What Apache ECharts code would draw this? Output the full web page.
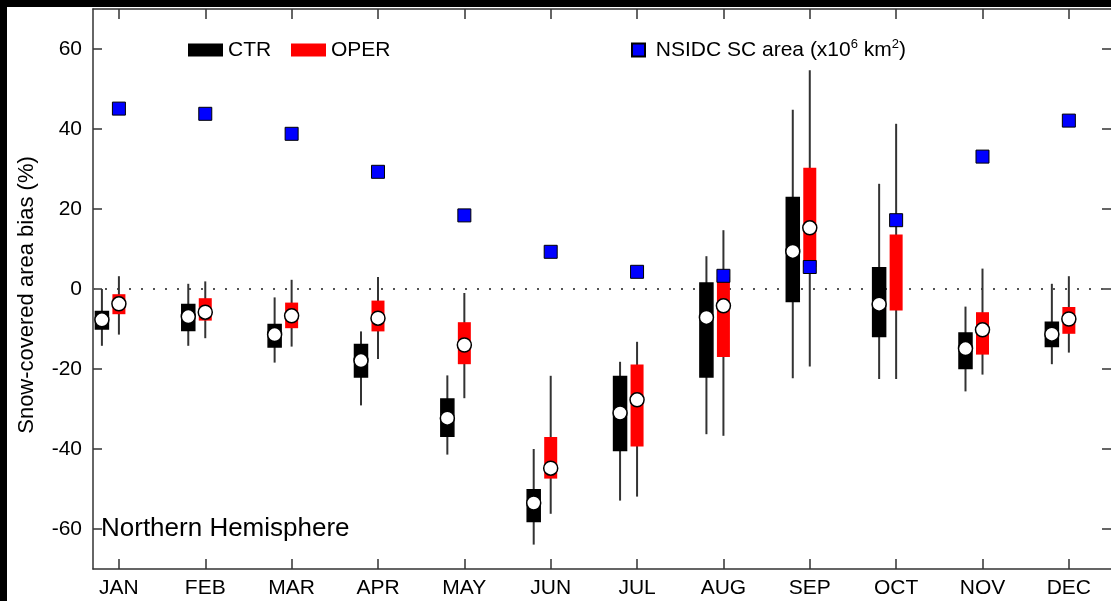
<!DOCTYPE html>
<html>
<head>
<meta charset="utf-8">
<script src="https://cdn.jsdelivr.net/npm/echarts@6/dist/echarts.min.js"></script>
<style>
  html, body { margin: 0; padding: 0; background: #fff; }
  #chart { width: 1111px; height: 601px; }
</style>
</head>
<body>
<div id="chart"></div>
<script>
// Month labels and their positions on the x axis
const months = ['JAN', 'FEB', 'MAR', 'APR', 'MAY', 'JUN', 'JUL', 'AUG', 'SEP', 'OCT', 'NOV', 'DEC'];
const monthIndex = [1, 2, 3, 4, 5, 6, 7, 8, 9, 10, 11, 12];
const yTicks = [-60, -40, -20, 0, 20, 40, 60];

// CTR experiment: snow-covered area bias (%) box statistics per month
const ctrLow    = [-14.2, -14.2, -18.4, -29.1, -41.4, -63.9, -52.9, -36.3, -22.3, -22.5, -25.6, -18.8];
const ctrQ1     = [-10.0, -10.4, -14.5, -22.0, -36.8, -58.1, -40.4, -22.0,  -3.1, -11.9, -19.9, -14.4];
const ctrMedian = [ -7.7,  -6.9, -11.4, -17.9, -32.3, -53.5, -31.0,  -7.1,   9.4,  -3.8, -14.9, -11.3];
const ctrQ3     = [ -5.6,  -3.9,  -8.9, -13.9, -27.5, -50.2, -21.9,   1.5,  22.9,   5.3, -11.0,  -8.3];
const ctrHigh   = [  0.0,   1.3,  -2.1, -10.6, -21.6, -40.0, -18.2,   8.2,  44.8,  26.3,  -4.4,   1.3];

// OPER experiment: snow-covered area bias (%) box statistics per month
const operLow    = [-11.4, -12.3, -14.4, -17.5, -27.3, -56.2, -51.9, -36.7, -19.4, -22.5, -21.4, -15.9];
const operQ1     = [ -6.3,  -7.9,  -9.8, -10.6, -18.8, -47.4, -39.4, -17.0,   5.5,  -5.4, -16.4, -11.2];
const operMedian = [ -3.7,  -5.8,  -6.7,  -7.3, -14.0, -44.8, -27.7,  -4.2,  15.3,  null, -10.2,  -7.5];
const operQ3     = [ -1.3,  -2.3,  -3.4,  -2.9,  -8.3, -37.0, -18.9,   3.0,  30.3,  13.6,  -5.8,  -4.5];
const operHigh   = [  3.2,   1.9,   2.3,   3.0,  -1.0, -21.7, -13.2,  14.7,  54.7,  41.3,   5.1,   3.2];

// NSIDC snow-covered area (x10^6 km^2)
const nsidcArea = [45.1, 43.8, 38.8, 29.3, 18.4, 9.3, 4.3, 3.3, 5.5, 17.2, 33.1, 42.1];

const FONT = '"Liberation Sans", Arial, Helvetica, sans-serif';
const AXIS_COLOR = '#333';

function boxRows(lo, q1, med, q3, hi) {
  return monthIndex.map((m, i) => [m, lo[i], q1[i], med[i] == null ? NaN : med[i], q3[i], hi[i]]);
}

// Whisker + box + median marker, shifted horizontally by a pixel offset
function boxRenderer(offsetPx, fill, stroke) {
  return function (params, api) {
    const x = api.value(0);
    const yLo = api.coord([x, api.value(1)])[1];
    const yQ1 = api.coord([x, api.value(2)])[1];
    const med = api.value(3);
    const yQ3 = api.coord([x, api.value(4)])[1];
    const yHi = api.coord([x, api.value(5)])[1];
    const cx = api.coord([x, 0])[0] + offsetPx;
    const half = 6.5;
    const children = [
      { type: 'line', shape: { x1: cx, y1: yHi, x2: cx, y2: yLo },
        style: { stroke: '#333', lineWidth: 2 } },
      { type: 'rect', shape: { x: cx - half, y: yQ3, width: half * 2, height: yQ1 - yQ3 },
        style: { fill: fill, stroke: stroke, lineWidth: stroke === 'none' ? 0 : 1.5 } }
    ];
    if (!isNaN(med)) {
      const yMed = api.coord([x, med])[1];
      children.push({ type: 'circle', shape: { cx: cx, cy: yMed, r: 7 },
        style: { fill: '#fff', stroke: '#000', lineWidth: 1.5 } });
    }
    return { type: 'group', children: children };
  };
}

const X_MIN = 0.7, X_MAX = 12.488;
const xAxisBase = {
  type: 'value', min: X_MIN, max: X_MAX,
  axisLine: { show: true, onZero: false, lineStyle: { color: AXIS_COLOR, width: 1.5 } },
  axisTick: { show: true, inside: true, length: 10, customValues: monthIndex,
    lineStyle: { color: AXIS_COLOR, width: 1.5 } },
  splitLine: { show: false }
};
const yAxisBase = {
  type: 'value', min: -70, max: 70,
  axisLine: { show: true, onZero: false, lineStyle: { color: AXIS_COLOR, width: 1.5 } },
  axisTick: { show: true, inside: true, length: 9, customValues: yTicks,
    lineStyle: { color: AXIS_COLOR, width: 1.5 } },
  splitLine: { show: false }
};

const legendBase = {
  top: 38, padding: 0, itemGap: 0, icon: 'rect', selectedMode: false,
  textStyle: { fontSize: 21, color: '#000', fontFamily: FONT, lineHeight: 24 }
};

const chart = echarts.init(document.getElementById('chart'), null, { renderer: 'canvas' });
chart.setOption({
  animation: false,
  backgroundColor: '#fff',
  grid: { left: 93, top: 9, width: 1018, height: 560, containLabel: false },
  xAxis: [
    Object.assign({}, xAxisBase, {
      position: 'bottom',
      axisLabel: { customValues: monthIndex, formatter: v => months[Math.round(v) - 1],
        fontSize: 21, color: '#000', fontFamily: FONT, margin: 9 }
    }),
    Object.assign({}, xAxisBase, { position: 'top', axisLabel: { show: false } })
  ],
  yAxis: [
    Object.assign({}, yAxisBase, {
      position: 'left',
      axisLabel: { customValues: yTicks, fontSize: 21, color: '#000', fontFamily: FONT, margin: 11 }
    }),
    // right-hand frame edge sits at the page border; only its ticks show
    Object.assign({}, yAxisBase, { position: 'right', axisLine: { show: false }, axisLabel: { show: false } })
  ],
  legend: [
    Object.assign({}, legendBase, { left: 188, data: ['CTR'], itemWidth: 35, itemHeight: 13 }),
    Object.assign({}, legendBase, { left: 291, data: ['OPER'], itemWidth: 35, itemHeight: 13 }),
    Object.assign({}, legendBase, {
      left: 631, data: ['NSIDC SC area'], itemWidth: 13, itemHeight: 13,
      formatter: () => ' NSIDC SC area (x10{sup|6} km{sup|2})',
      textStyle: Object.assign({}, legendBase.textStyle, {
        rich: { sup: { fontSize: 13, fontFamily: FONT, color: '#000', verticalAlign: 'top', lineHeight: 14 } }
      })
    })
  ],
  graphic: [
    { type: 'text', left: 101, top: 516, z: 10,
      style: { text: 'Northern Hemisphere', fontSize: 26, fontFamily: FONT, fill: '#000' } },
    { type: 'text', x: 27, y: 295, rotation: Math.PI / 2, z: 10,
      style: { text: 'Snow-covered area bias (%)', fontSize: 22, fontFamily: FONT, fill: '#000',
        align: 'center', verticalAlign: 'middle' } },
    { type: 'rect', left: 0, top: 0, z: 100, shape: { width: 1111, height: 7 }, style: { fill: '#000' } },
    { type: 'rect', left: 0, top: 0, z: 100, shape: { width: 7, height: 601 }, style: { fill: '#000' } }
  ],
  series: [
    {
      name: 'CTR', type: 'custom', color: '#000', z: 2,
      itemStyle: { color: '#000' },
      renderItem: boxRenderer(-17, '#000', '#000'),
      encode: { x: 0, y: [1, 2, 3, 4, 5] },
      data: boxRows(ctrLow, ctrQ1, ctrMedian, ctrQ3, ctrHigh),
      markLine: {
        silent: true, symbol: 'none', z: 1,
        label: { show: false },
        lineStyle: { type: [2, 10], color: '#555', width: 2 },
        data: [{ yAxis: 0 }]
      }
    },
    {
      name: 'OPER', type: 'custom', color: '#ff0000', z: 2,
      itemStyle: { color: '#ff0000' },
      renderItem: boxRenderer(0, '#ff0000', 'none'),
      encode: { x: 0, y: [1, 2, 3, 4, 5] },
      data: boxRows(operLow, operQ1, operMedian, operQ3, operHigh)
    },
    {
      name: 'NSIDC SC area', type: 'scatter', z: 5,
      symbol: 'rect', symbolSize: 13,
      itemStyle: { color: '#0000ff', borderColor: '#000', borderWidth: 1, opacity: 1 },
      data: monthIndex.map((m, i) => [m, nsidcArea[i]])
    }
  ]
});
</script>
</body>
</html>
